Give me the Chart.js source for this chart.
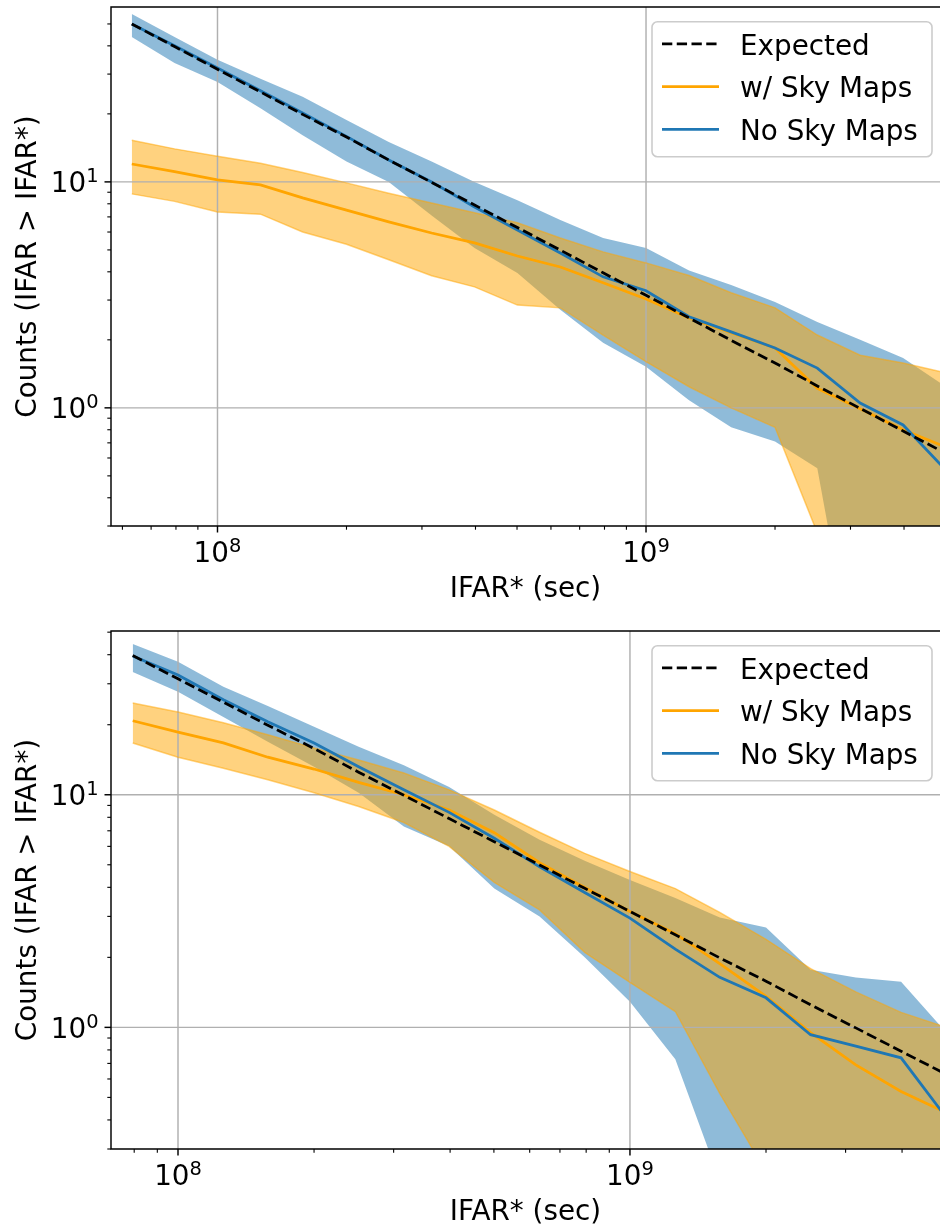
<!DOCTYPE html>
<html>
<head>
<meta charset="utf-8">
<script src="https://cdn.jsdelivr.net/npm/chart.js@4.4.1/dist/chart.umd.min.js"></script>
<style>
  html, body { margin: 0; padding: 0; background: #fff; }
  #wrap { position: relative; width: 940px; height: 1229px; overflow: hidden; }
  canvas { position: absolute; left: 0; }
  #topChart { top: 0; }
  #bottomChart { top: 606px; }
</style>
</head>
<body>
<div id="wrap">
  <canvas id="topChart" width="940" height="606"></canvas>
  <canvas id="bottomChart" width="940" height="623"></canvas>
</div>
<script>
// Values (IFAR* in seconds, counts)
const topIfar = [6.31e7, 7.94e7, 1.0e8, 1.26e8, 1.58e8, 2.0e8, 2.51e8, 3.16e8, 3.98e8, 5.01e8, 6.31e8, 7.94e8, 1.0e9, 1.26e9, 1.58e9, 2.0e9, 2.51e9, 3.16e9, 3.98e9, 5.01e9];
const topExpected = [50.0, 39.7, 31.5, 25.0, 19.9, 15.8, 12.5, 9.95, 7.9, 6.28, 4.99, 3.96, 3.15, 2.50, 1.99, 1.58, 1.25, 0.995, 0.79, 0.628];
const topSky = [12.0, 11.1, 10.2, 9.7, 8.5, 7.5, 6.65, 5.94, 5.37, 4.7, 4.2, 3.58, 3.03, 2.5, 2.15, 1.84, 1.22, 0.99, 0.80, 0.67];
const topSkyHigh = [15.3, 14.0, 13.0, 12.1, 11.0, 9.9, 8.9, 8.07, 7.3, 6.6, 5.65, 4.9, 4.38, 3.85, 3.23, 2.77, 2.1, 1.71, 1.58, 1.43];
const topSkyLow = [8.85, 8.2, 7.36, 7.2, 6.0, 5.3, 4.52, 3.84, 3.43, 2.85, 2.77, 2.1, 1.6, 1.24, 1.0, 0.82, 0.28, 0.05, 0.05, 0.05];
const topNoSky = [50.0, 40.0, 31.9, 25.3, 20.2, 15.9, 12.5, 10.0, 7.74, 6.13, 4.85, 3.8, 3.3, 2.53, 2.17, 1.84, 1.50, 1.05, 0.84, 0.53];
const topNoSkyHigh = [55.3, 43.8, 34.7, 28.6, 23.8, 18.8, 15.0, 12.3, 10.0, 8.3, 6.79, 5.65, 5.1, 4.05, 3.5, 2.94, 2.40, 2.0, 1.66, 1.24];
const topNoSkyLow = [43.8, 33.6, 27.7, 21.2, 16.1, 12.3, 10.0, 7.1, 5.1, 3.95, 2.72, 1.94, 1.52, 1.08, 0.82, 0.71, 0.54, 0.05, 0.05, 0.05];

const bottomIfar = [7.94e7, 1.0e8, 1.26e8, 1.58e8, 2.0e8, 2.51e8, 3.16e8, 3.98e8, 5.01e8, 6.31e8, 7.94e8, 1.0e9, 1.26e9, 1.58e9, 2.0e9, 2.51e9, 3.16e9, 3.98e9, 5.01e9];
const bottomExpected = [39.7, 31.5, 25.0, 19.9, 15.8, 12.5, 9.95, 7.9, 6.28, 4.99, 3.96, 3.15, 2.50, 1.99, 1.58, 1.25, 0.995, 0.79, 0.628];
const bottomSky = [20.8, 18.6, 16.7, 14.5, 12.9, 11.3, 10.0, 8.6, 6.87, 5.1, 3.99, 3.15, 2.53, 1.88, 1.36, 0.95, 0.69, 0.53, 0.43];
const bottomSkyHigh = [24.8, 22.7, 20.4, 18.1, 15.9, 14.1, 12.4, 10.5, 8.6, 6.9, 5.6, 4.68, 3.95, 3.12, 2.39, 1.79, 1.42, 1.16, 1.0];
const bottomSkyLow = [16.7, 14.5, 13.0, 11.6, 10.2, 8.9, 7.6, 6.0, 4.2, 3.2, 2.1, 1.56, 1.17, 0.52, 0.24, 0.05, 0.05, 0.05, 0.05];
const bottomNoSky = [39.5, 32.7, 25.6, 20.6, 16.7, 13.2, 10.5, 8.4, 6.5, 4.9, 3.8, 2.95, 2.17, 1.64, 1.34, 0.93, 0.83, 0.74, 0.41];
const bottomNoSkyHigh = [44.5, 37.3, 29.1, 24.1, 19.6, 16.1, 13.4, 10.8, 8.2, 6.4, 5.2, 4.3, 3.6, 2.97, 2.69, 1.77, 1.64, 1.57, 0.95];
const bottomNoSkyLow = [33.7, 27.7, 21.6, 16.9, 13.2, 10.2, 7.3, 6.0, 3.95, 3.0, 2.0, 1.29, 0.73, 0.22, 0.05, 0.05, 0.05, 0.05, 0.05];

// Tick labels
const xTickValues = [1e8, 1e9];
const xTickLabels = ['10⁸', '10⁹'];
const yTickValues = [1, 10];
const yTickLabels = ['10⁰', '10¹'];

const legendLabels = ['Expected', 'w/ Sky Maps', 'No Sky Maps'];

// Styles
const FAMILY = "'DejaVu Sans', 'Liberation Sans', sans-serif";
const FS = 27.8;
const LW = 2.78;
const DASH = [10.3, 4.45];
const BLUE = '#1f77b4';
const ORANGE = '#ffa500';
const SUPERS = '⁰¹²³⁴⁵⁶⁷⁸⁹';

// 1..9 x 10^n inside [min, max]
const logTickValues = (min, max) => {
  const out = [];
  for (let e = Math.floor(Math.log10(min)); e <= Math.ceil(Math.log10(max)); e++) {
    for (let m = 1; m <= 9; m++) {
      const v = m * Math.pow(10, e);
      if (v >= min * 0.9999 && v <= max * 1.0001) out.push(v);
    }
  }
  return out;
};
const isMajor = (v) => Math.abs(Math.log10(v) - Math.round(Math.log10(v))) < 1e-6;

// "10⁸" drawn like matplotlib mathtext: base + smaller raised exponent
const drawPower = (ctx, label, x, baseline, align) => {
  const base = label.slice(0, -1);
  const exp = String(SUPERS.indexOf(label.slice(-1)));
  ctx.font = `${FS}px ${FAMILY}`;
  const wb = ctx.measureText(base).width;
  ctx.font = `${FS * 0.7}px ${FAMILY}`;
  const we = ctx.measureText(exp).width;
  const left = align === 'center' ? x - (wb + we) / 2 : x - (wb + we);
  ctx.textAlign = 'left';
  ctx.textBaseline = 'alphabetic';
  ctx.font = `${FS}px ${FAMILY}`;
  ctx.fillText(base, left, baseline);
  ctx.font = `${FS * 0.7}px ${FAMILY}`;
  ctx.fillText(exp, left + wb, baseline - 10);
};

// Grid, spines, ticks, tick labels and legend in matplotlib style
const axesPlugin = {
  id: 'mplAxes',
  beforeDatasetsDraw(chart) {
    const { ctx, chartArea: a, scales: { x, y } } = chart;
    ctx.save();
    ctx.strokeStyle = '#b0b0b0';
    ctx.lineWidth = 1.45;
    ctx.beginPath();
    xTickValues.forEach((v) => {
      const px = x.getPixelForValue(v);
      ctx.moveTo(px, a.top);
      ctx.lineTo(px, a.bottom);
    });
    yTickValues.forEach((v) => {
      const py = y.getPixelForValue(v);
      ctx.moveTo(a.left, py);
      ctx.lineTo(a.right, py);
    });
    ctx.stroke();
    ctx.restore();
  },
  afterDatasetsDraw(chart) {
    const { ctx, chartArea: a, scales: { x, y } } = chart;
    ctx.save();

    // Spines (right one is outside the picture)
    ctx.strokeStyle = '#000';
    ctx.lineWidth = 1.45;
    ctx.beginPath();
    ctx.moveTo(a.right + 2, a.top);
    ctx.lineTo(a.left, a.top);
    ctx.lineTo(a.left, a.bottom);
    ctx.lineTo(a.right + 2, a.bottom);
    ctx.stroke();

    // Tick marks
    logTickValues(x.min, x.max).forEach((v) => {
      const px = x.getPixelForValue(v);
      const major = isMajor(v);
      ctx.lineWidth = major ? 1.45 : 1.1;
      ctx.beginPath();
      ctx.moveTo(px, a.bottom);
      ctx.lineTo(px, a.bottom + (major ? 6.5 : 3.7));
      ctx.stroke();
    });
    logTickValues(y.min, y.max).forEach((v) => {
      const py = y.getPixelForValue(v);
      const major = isMajor(v);
      ctx.lineWidth = major ? 1.45 : 1.1;
      ctx.beginPath();
      ctx.moveTo(a.left, py);
      ctx.lineTo(a.left - (major ? 6.5 : 3.7), py);
      ctx.stroke();
    });

    // Tick labels
    ctx.fillStyle = '#000';
    xTickValues.forEach((v, i) => {
      drawPower(ctx, xTickLabels[i], x.getPixelForValue(v), a.bottom + 36, 'center');
    });
    yTickValues.forEach((v, i) => {
      drawPower(ctx, yTickLabels[i], a.left - 12.5, y.getPixelForValue(v) + 10.2, 'right');
    });

    // Legend
    const bx = 652, bw = 280, by = a.top + 14.8, bh = 135, r = 5.5;
    ctx.beginPath();
    ctx.moveTo(bx + r, by);
    ctx.arcTo(bx + bw, by, bx + bw, by + bh, r);
    ctx.arcTo(bx + bw, by + bh, bx, by + bh, r);
    ctx.arcTo(bx, by + bh, bx, by, r);
    ctx.arcTo(bx, by, bx + bw, by, r);
    ctx.closePath();
    ctx.fillStyle = 'rgba(255,255,255,0.8)';
    ctx.fill();
    ctx.strokeStyle = '#cccccc';
    ctx.lineWidth = 1.6;
    ctx.stroke();

    const styles = [
      { color: '#000', dash: DASH },
      { color: ORANGE, dash: [] },
      { color: BLUE, dash: [] },
    ];
    legendLabels.forEach((text, i) => {
      const ry = a.top + 36.8 + i * 42.75;
      ctx.strokeStyle = styles[i].color;
      ctx.lineWidth = LW;
      ctx.setLineDash(styles[i].dash);
      ctx.beginPath();
      ctx.moveTo(662, ry);
      ctx.lineTo(719, ry);
      ctx.stroke();
      ctx.setLineDash([]);
      ctx.fillStyle = '#000';
      ctx.font = `${FS}px ${FAMILY}`;
      ctx.textAlign = 'left';
      ctx.textBaseline = 'alphabetic';
      ctx.fillText(text, 740, ry + 10.8);
    });

    ctx.restore();
  },
};

const buildChart = (canvasId, p) => {
  const pts = (ys) => p.ifar.map((v, i) => ({ x: v, y: ys[i] }));
  const line = { pointRadius: 0, pointHoverRadius: 0, tension: 0, clip: 0 };
  return new Chart(document.getElementById(canvasId), {
    type: 'line',
    data: {
      datasets: [
        { ...line, label: legendLabels[0], data: pts(p.expected), borderColor: '#000', borderWidth: LW, borderDash: DASH, fill: false },
        { ...line, label: legendLabels[2], data: pts(p.noSky), borderColor: BLUE, borderWidth: LW, fill: false },
        { ...line, label: legendLabels[1], data: pts(p.sky), borderColor: ORANGE, borderWidth: LW, fill: false },
        { ...line, label: 'sky high', data: pts(p.skyHigh), borderColor: 'rgba(255,165,0,0.5)', borderWidth: 1.5, backgroundColor: 'rgba(255,165,0,0.5)', fill: '+1' },
        { ...line, label: 'sky low', data: pts(p.skyLow), borderColor: 'rgba(255,165,0,0.5)', borderWidth: 1.5, fill: false },
        { ...line, label: 'no sky high', data: pts(p.noSkyHigh), borderColor: 'rgba(0,0,0,0)', borderWidth: 0, backgroundColor: 'rgba(31,119,180,0.5)', fill: '+1' },
        { ...line, label: 'no sky low', data: pts(p.noSkyLow), borderColor: 'rgba(0,0,0,0)', borderWidth: 0, fill: false },
      ],
    },
    options: {
      responsive: false,
      animation: false,
      events: [],
      layout: { padding: { top: p.padTop, left: 0, right: 0, bottom: 0 } },
      plugins: {
        legend: { display: false },
        tooltip: { enabled: false },
        filler: { drawTime: 'beforeDatasetsDraw' },
      },
      scales: {
        x: {
          type: 'logarithmic',
          min: p.xMin,
          max: p.xMax,
          afterBuildTicks: (s) => { s.ticks = logTickValues(s.min, s.max).map((v) => ({ value: v })); },
          afterFit: (s) => { s.height = 80; },
          grid: { display: false },
          border: { display: false },
          ticks: { display: false },
          title: { display: true, text: 'IFAR* (sec)', color: '#000', font: { family: FAMILY, size: FS }, padding: 0 },
        },
        y: {
          type: 'logarithmic',
          min: p.yMin,
          max: p.yMax,
          afterBuildTicks: (s) => { s.ticks = logTickValues(s.min, s.max).map((v) => ({ value: v })); },
          afterFit: (s) => { s.width = 111; },
          grid: { display: false },
          border: { display: false },
          ticks: { display: false },
          title: { display: true, text: 'Counts (IFAR > IFAR*)', color: '#000', font: { family: FAMILY, size: FS }, padding: { top: 12, bottom: 0 } },
        },
      },
    },
    plugins: [axesPlugin],
  });
};

document.addEventListener('DOMContentLoaded', () => {
  buildChart('topChart', {
    ifar: topIfar, expected: topExpected, sky: topSky, skyHigh: topSkyHigh, skyLow: topSkyLow,
    noSky: topNoSky, noSkyHigh: topNoSkyHigh, noSkyLow: topNoSkyLow,
    xMin: 5.643e7, xMax: 4.853e9, yMin: 0.3006, yMax: 59.43, padTop: 7,
  });
  buildChart('bottomChart', {
    ifar: bottomIfar, expected: bottomExpected, sky: bottomSky, skyHigh: bottomSkyHigh, skyLow: bottomSkyLow,
    noSky: bottomNoSky, noSkyHigh: bottomNoSkyHigh, noSkyLow: bottomNoSkyLow,
    xMin: 7.108e7, xMax: 4.853e9, yMin: 0.3030, yMax: 50.58, padTop: 25,
  });
});
</script>
</body>
</html>
